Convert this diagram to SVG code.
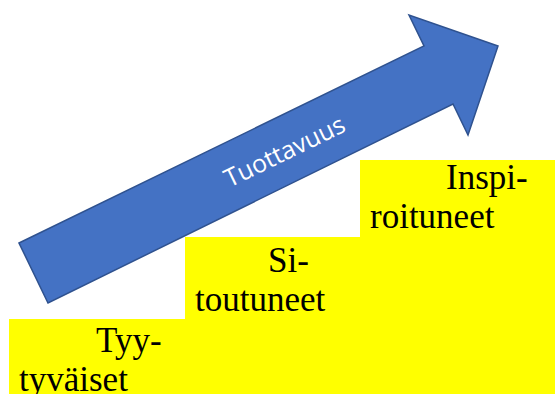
<svg xmlns="http://www.w3.org/2000/svg" width="555" height="394" viewBox="0 0 555 394">
  <style>
    .step { fill: #FFFF00; }
    .label { font-size: 35px; fill: #000000; }
    .arrow { fill: #4472C4; stroke: #2F528F; stroke-width: 1.5; stroke-linejoin: miter; }
    .arrow-text { font-size: 25px; fill: #FFFFFF; }
  </style>
  <rect width="555" height="394" fill="#FFFFFF"/>

  <!-- staircase steps -->
  <g font-family="'Liberation Serif', 'DejaVu Serif', serif">
    <g id="step-tyytyvaiset">
      <rect class="step" x="9" y="319" width="546" height="75"/>
      <text class="label" x="96" y="352">Tyy-</text>
      <text class="label" x="19" y="391">tyväiset</text>
    </g>
    <g id="step-sitoutuneet">
      <rect class="step" x="185" y="237" width="370" height="157"/>
      <text class="label" x="268" y="272">Si-</text>
      <text class="label" x="195" y="311">toutuneet</text>
    </g>
    <g id="step-inspiroituneet">
      <rect class="step" x="360" y="160" width="195" height="234"/>
      <text class="label" x="446" y="189">Inspi-</text>
      <text class="label" x="370" y="228">roituneet</text>
    </g>
  </g>

  <!-- rising block arrow -->
  <g id="arrow-tuottavuus">
    <polygon class="arrow" points="19,243 424,46 409,15 498,46 468,135 453,104 48,303"/>
    <g transform="translate(284.5,151.1) rotate(-25.9)">
      <text class="arrow-text" x="0" y="9" text-anchor="middle" font-family="'Open Sans', 'Liberation Sans', sans-serif">Tuottavuus</text>
    </g>
  </g>
</svg>
